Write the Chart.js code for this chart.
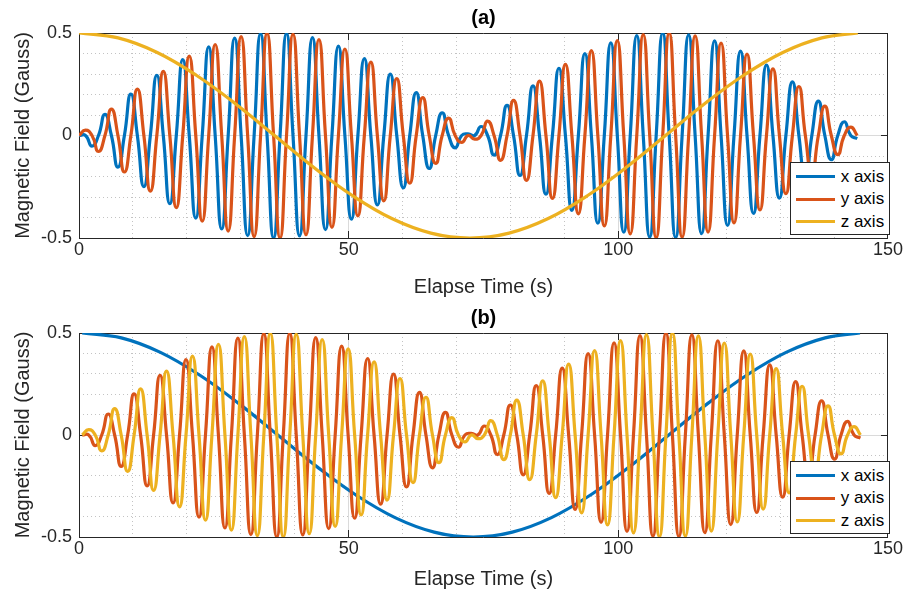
<!DOCTYPE html>
<html>
<head>
<meta charset="utf-8">
<script src="https://cdn.jsdelivr.net/npm/chart.js@4.4.1/dist/chart.umd.min.js"></script>
<style>
html,body{margin:0;padding:0;background:#fff;}
#wrap{position:relative;width:911px;height:601px;overflow:hidden;font-family:"Liberation Sans",Arial,Helvetica,sans-serif;}
.panel{position:absolute;left:0;}
.legend{position:absolute;background:#fff;border:1px solid #262626;box-sizing:border-box;width:100px;height:73px;}
.legend .row{position:absolute;left:0;height:22px;line-height:22px;font-size:17px;color:#000;white-space:nowrap;}
.legend .sw{position:absolute;left:4.7px;top:9.5px;width:39.3px;height:3px;}
.legend .tx{position:absolute;left:49.7px;top:0;}
</style>
</head>
<body>
<div id="wrap">
  <canvas id="chartA" class="panel" width="911" height="300" style="top:0px"></canvas>
  <canvas id="chartB" class="panel" width="911" height="301" style="top:300px"></canvas>
</div>
<script>
// ---------- data ----------
const seriesNames = ['x axis', 'y axis', 'z axis'];
const panelTitles = ['(a)', '(b)'];
const xTickValues = [0, 50, 100, 150];
const yTickValues = [-0.5, 0, 0.5];

// sample times (s) of the fast oscillations, panel (a)
const timeA = [
  0, 1.20, 2.41, 3.61, 4.81, 6.01, 7.22, 8.42, 9.62, 10.82,
  12.03, 13.23, 14.43, 15.63, 16.84, 18.04, 19.24, 20.44, 21.65, 22.85,
  24.05, 25.25, 26.46, 27.66, 28.86, 30.06, 31.27, 32.47, 33.67, 34.87,
  36.08, 37.28, 38.48, 39.68, 40.89, 42.09, 43.29, 44.49, 45.70, 46.90,
  48.10, 49.30, 50.51, 51.71, 52.91, 54.11, 55.32, 56.52, 57.72, 58.92,
  60.13, 61.33, 62.53, 63.73, 64.94, 66.14, 67.34, 68.54, 69.75, 70.95,
  72.15, 73.35, 74.56, 75.76, 76.96, 78.16, 79.37, 80.57, 81.77, 82.97,
  84.18, 85.38, 86.58, 87.78, 88.99, 90.19, 91.39, 92.59, 93.80, 95.00,
  96.20, 97.40, 98.61, 99.81, 101.01, 102.21, 103.42, 104.62, 105.82, 107.02,
  108.23, 109.43, 110.63, 111.83, 113.04, 114.24, 115.44, 116.64, 117.85, 119.05,
  120.25, 121.45, 122.66, 123.86, 125.06, 126.26, 127.47, 128.67, 129.87, 131.07,
  132.28, 133.48, 134.68, 135.88, 137.09, 138.29, 139.49, 140.69, 141.90, 143.10,
  144.30
];
// sample times (s) of the fast oscillations, panel (b)
const timeB = [
  0.60, 1.80, 3.01, 4.21, 5.41, 6.61, 7.82, 9.02, 10.22, 11.42,
  12.63, 13.83, 15.03, 16.23, 17.44, 18.64, 19.84, 21.04, 22.25, 23.45,
  24.65, 25.85, 27.06, 28.26, 29.46, 30.66, 31.87, 33.07, 34.27, 35.47,
  36.68, 37.88, 39.08, 40.28, 41.49, 42.69, 43.89, 45.09, 46.30, 47.50,
  48.70, 49.90, 51.11, 52.31, 53.51, 54.71, 55.92, 57.12, 58.32, 59.52,
  60.73, 61.93, 63.13, 64.33, 65.54, 66.74, 67.94, 69.14, 70.35, 71.55,
  72.75, 73.95, 75.16, 76.36, 77.56, 78.76, 79.97, 81.17, 82.37, 83.57,
  84.78, 85.98, 87.18, 88.38, 89.59, 90.79, 91.99, 93.19, 94.40, 95.60,
  96.80, 98.00, 99.21, 100.41, 101.61, 102.81, 104.02, 105.22, 106.42, 107.62,
  108.83, 110.03, 111.23, 112.43, 113.64, 114.84, 116.04, 117.24, 118.45, 119.65,
  120.85, 122.05, 123.26, 124.46, 125.66, 126.86, 128.07, 129.27, 130.47, 131.67,
  132.88, 134.08, 135.28, 136.48, 137.69, 138.89, 140.09, 141.29, 142.50, 143.70,
  144.90
];
// leading oscillation (Gauss): x axis in (a), y axis in (b)
const leadWave = [
  0, 0, -0.052, 0, 0.103, 0, -0.154, 0, 0.202, 0,
  -0.249, 0, 0.293, 0, -0.333, 0, 0.370, 0, -0.403, 0,
  0.432, 0, -0.456, 0, 0.475, 0, -0.488, 0, 0.497, 0,
  -0.500, 0, 0.498, 0, -0.490, 0, 0.477, 0, -0.459, 0,
  0.436, 0, -0.408, 0, 0.375, 0, -0.339, 0, 0.299, 0,
  -0.255, 0, 0.209, 0, -0.161, 0, 0.111, 0, -0.060, 0,
  0.008, 0, 0.044, 0, -0.096, 0, 0.147, 0, -0.195, 0,
  0.242, 0, -0.286, 0, 0.328, 0, -0.365, 0, 0.399, 0,
  -0.428, 0, 0.452, 0, -0.472, 0, 0.487, 0, -0.496, 0,
  0.500, 0, -0.498, 0, 0.491, 0, -0.479, 0, 0.462, 0,
  -0.439, 0, 0.412, 0, -0.380, 0, 0.344, 0, -0.305, 0,
  0.262, 0, -0.216, 0, 0.168, 0, -0.118, 0, 0.067, 0,
  -0.015
];
// lagging oscillation (Gauss): y axis in (a), z axis in (b)
const lagWave = [
  0, 0.026, 0, -0.078, 0, 0.129, 0, -0.178, 0, 0.226,
  0, -0.271, 0, 0.313, 0, -0.352, 0, 0.387, 0, -0.418,
  0, 0.444, 0, -0.466, 0, 0.482, 0, -0.493, 0, 0.499,
  0, -0.500, 0, 0.494, 0, -0.484, 0, 0.468, 0, -0.448,
  0, 0.422, 0, -0.392, 0, 0.358, 0, -0.319, 0, 0.277,
  0, -0.233, 0, 0.185, 0, -0.136, 0, 0.085, 0, -0.034,
  0, -0.018, 0, 0.070, 0, -0.121, 0, 0.171, 0, -0.219,
  0, 0.265, 0, -0.307, 0, 0.347, 0, -0.382, 0, 0.414,
  0, -0.441, 0, 0.463, 0, -0.480, 0, 0.492, 0, -0.499,
  0, 0.500, 0, -0.496, 0, 0.486, 0, -0.471, 0, 0.451,
  0, -0.426, 0, 0.397, 0, -0.363, 0, 0.325, 0, -0.284,
  0, 0.239, 0, -0.192, 0, 0.143, 0, -0.093, 0, 0.041,
  0
];
// slow component: z axis in (a), x axis in (b)
const slowTimeA = [0, 7.25, 14.5, 21.75, 29, 36.25, 43.5, 50.75, 58, 65.25, 72.5,
                   79.75, 87, 94.25, 101.5, 108.75, 116, 123.25, 130.5, 137.75, 144.4];
const slowTimeB = [0.6, 7.85, 15.1, 22.35, 29.6, 36.85, 44.1, 51.35, 58.6, 65.85, 73.1,
                   80.35, 87.6, 94.85, 102.1, 109.35, 116.6, 123.85, 131.1, 138.35, 144.8];
const slowWave = [0.5, 0.476, 0.405, 0.294, 0.155, 0, -0.155, -0.294, -0.405, -0.476, -0.5,
                  -0.476, -0.405, -0.294, -0.155, 0, 0.155, 0.294, 0.405, 0.476, 0.5];

// ---------- styling ----------
const COLORS = ['#0072BD', '#D95319', '#EDB120'];
const FONT = '"Liberation Sans", Arial, Helvetica, sans-serif';
const AXIS_COLOR = '#262626';
Chart.defaults.font.family = FONT;

function pts(t, v) { return t.map((ti, i) => ({ x: ti, y: v[i] })); }

function ds(label, data, color, order, tension) {
  return {
    label, data, borderColor: color, backgroundColor: color,
    borderWidth: 3.2, pointRadius: 0, pointHoverRadius: 0, fill: false,
    cubicInterpolationMode: 'default', tension, order
  };
}

function isMajor(v, step) { return Math.abs(v / step - Math.round(v / step)) < 1e-6; }

function makeChart(id, title, series, tensions, canvasH, plotBottom, xTitlePad) {
  const ctx = document.getElementById(id);
  return new Chart(ctx, {
    type: 'line',
    data: {
      datasets: [
        ds(seriesNames[0], series[0], COLORS[0], 3, tensions[0]),
        ds(seriesNames[1], series[1], COLORS[1], 2, tensions[1]),
        ds(seriesNames[2], series[2], COLORS[2], 1, tensions[2])
      ]
    },
    options: {
      responsive: false, animation: false, devicePixelRatio: 1,
      layout: { padding: { left: 0, right: 17, top: 0, bottom: 0 } },
      plugins: {
        legend: { display: false },
        tooltip: { enabled: false },
        title: {
          display: true, text: title, fullSize: false, color: '#000',
          font: { family: FONT, size: 20, weight: 'bold' },
          padding: { top: 6, bottom: 3 }
        }
      },
      scales: {
        x: {
          type: 'linear', position: 'bottom', min: xTickValues[0], max: xTickValues[xTickValues.length - 1],
          afterBuildTicks: s => { s.ticks = xTickValues.map(v => ({ value: v })); },
          ticks: { color: AXIS_COLOR, font: { size: 18 }, padding: 8, maxRotation: 0, autoSkip: false,
                   callback: v => String(v) },
          grid: { color: 'rgba(38,38,38,0.17)', lineWidth: 1, drawTicks: true, tickLength: -7,
                  tickColor: AXIS_COLOR, tickWidth: 1 },
          border: { display: true, color: AXIS_COLOR, width: 1 },
          title: { display: true, text: 'Elapse Time (s)', color: AXIS_COLOR, font: { size: 20 },
                   padding: { top: 0, bottom: xTitlePad } },
          afterFit: s => { s.height = canvasH - plotBottom; }
        },
        xMinor: {
          type: 'linear', position: 'bottom', min: 0, max: 150,
          ticks: { display: false, stepSize: 10 },
          grid: { drawTicks: false, lineWidth: 1, borderDash: [1, 3],
                  color: c => (c.tick && isMajor(c.tick.value, 50)) ? 'rgba(0,0,0,0)' : 'rgba(38,38,38,0.28)' },
          border: { display: false, dash: [1, 3] },
          afterFit: s => { s.height = 0; }
        },
        xTop: {
          type: 'linear', position: 'top', min: 0, max: 150,
          afterBuildTicks: s => { s.ticks = xTickValues.map(v => ({ value: v })); },
          ticks: { display: false },
          grid: { drawOnChartArea: false, drawTicks: true, tickLength: -7, tickColor: AXIS_COLOR, tickWidth: 1 },
          border: { display: true, color: AXIS_COLOR, width: 1 },
          afterFit: s => { s.height = 0; }
        },
        y: {
          type: 'linear', position: 'left', min: yTickValues[0], max: yTickValues[yTickValues.length - 1],
          afterBuildTicks: s => { s.ticks = yTickValues.map(v => ({ value: v })); },
          ticks: { color: AXIS_COLOR, font: { size: 18 }, padding: 14, callback: v => String(v) },
          grid: { color: 'rgba(38,38,38,0.17)', lineWidth: 1, drawTicks: true, tickLength: -7,
                  tickColor: AXIS_COLOR, tickWidth: 1 },
          border: { display: true, color: AXIS_COLOR, width: 1 },
          title: { display: true, text: 'Magnetic Field (Gauss)', color: AXIS_COLOR, font: { size: 20 },
                   padding: { top: 11, bottom: 0 } },
          afterFit: s => { s.width = 79; }
        },
        yMinor: {
          type: 'linear', position: 'left', min: -0.5, max: 0.5,
          ticks: { display: false, stepSize: 0.1 },
          grid: { drawTicks: false, lineWidth: 1, borderDash: [1, 3],
                  color: c => (c.tick && isMajor(c.tick.value, 0.5)) ? 'rgba(0,0,0,0)' : 'rgba(38,38,38,0.28)' },
          border: { display: false, dash: [1, 3] },
          afterFit: s => { s.width = 0; }
        },
        yRight: {
          type: 'linear', position: 'right', min: -0.5, max: 0.5,
          afterBuildTicks: s => { s.ticks = yTickValues.map(v => ({ value: v })); },
          ticks: { display: false },
          grid: { drawOnChartArea: false, drawTicks: true, tickLength: -7, tickColor: AXIS_COLOR, tickWidth: 1 },
          border: { display: true, color: AXIS_COLOR, width: 1 },
          afterFit: s => { s.width = 0; }
        }
      }
    }
  });
}

const FAST_TENSION = 0.55, SLOW_TENSION = 0.4;
// panel (a): x = lead, y = lag, z = slow
makeChart('chartA', panelTitles[0],
  [pts(timeA, leadWave), pts(timeA, lagWave), pts(slowTimeA, slowWave)],
  [FAST_TENSION, FAST_TENSION, SLOW_TENSION], 300, 238, 1);
// panel (b): x = slow, y = lead, z = lag
makeChart('chartB', panelTitles[1],
  [pts(slowTimeB, slowWave), pts(timeB, leadWave), pts(timeB, lagWave)],
  [SLOW_TENSION, FAST_TENSION, FAST_TENSION], 301, 237, 10);

// legends (inside lower-right of each axes)
function addLegend(top) {
  const box = document.createElement('div');
  box.className = 'legend';
  box.style.left = '790px';
  box.style.top = top + 'px';
  seriesNames.forEach((name, i) => {
    const row = document.createElement('div');
    row.className = 'row';
    row.style.top = (2.7 + 22.5 * i) + 'px';
    row.style.width = '98px';
    const sw = document.createElement('span');
    sw.className = 'sw';
    sw.style.background = COLORS[i];
    const tx = document.createElement('span');
    tx.className = 'tx';
    tx.textContent = name;
    row.appendChild(sw); row.appendChild(tx);
    box.appendChild(row);
  });
  document.getElementById('wrap').appendChild(box);
}
addLegend(162);
addLegend(461);
</script>
</body>
</html>
